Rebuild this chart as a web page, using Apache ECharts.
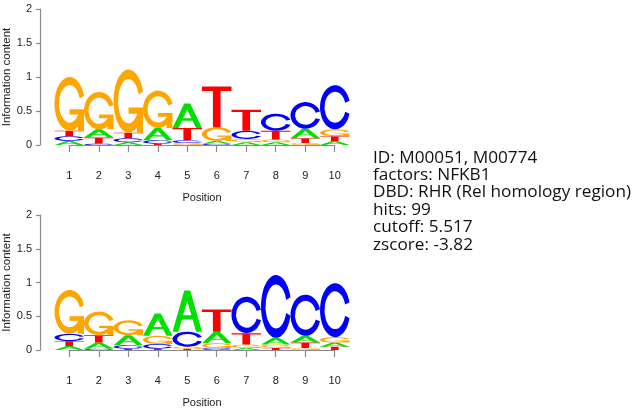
<!DOCTYPE html>
<html>
<head>
<meta charset="utf-8" />
<script src="https://cdn.jsdelivr.net/npm/echarts@6/dist/echarts.min.js"></script>
<style>
  html, body { margin: 0; padding: 0; background: #fff; }
  #main { width: 638px; height: 411px; }
</style>
</head>
<body>
<div id="main"></div>
<script>
// motif positions and y ticks
const positions = [1, 2, 3, 4, 5, 6, 7, 8, 9, 10];
const letters = ['A', 'C', 'G', 'T'];

// letter heights (bits)
const topA = [0.06, 0.12, 0.04, 0.18, 0.36, 0.04, 0.04, 0.04, 0.14, 0.06];
const topC = [0.07, 0.02, 0.06, 0.05, 0.04, 0.02, 0.12, 0.25, 0.39, 0.65];
const topG = [0.79, 0.55, 0.93, 0.55, 0.03, 0.20, 0.05, 0.04, 0.03, 0.10];
const topT = [0.08, 0.09, 0.08, 0.02, 0.18, 0.60, 0.31, 0.13, 0.07, 0.07];

// lower logo
const botA = [0.06, 0.09, 0.15, 0.33, 0.61, 0.17, 0.03, 0.10, 0.10, 0.06];
const botC = [0.11, 0.02, 0.05, 0.07, 0.22, 0.03, 0.54, 0.93, 0.61, 0.80];
const botG = [0.65, 0.35, 0.22, 0.12, 0.03, 0.07, 0.05, 0.05, 0.03, 0.08];
const botT = [0.07, 0.11, 0.02, 0.02, 0.02, 0.33, 0.17, 0.03, 0.08, 0.05];

const infoLines = [
  'ID: M00051, M00774',
  'factors: NFKB1',
  'DBD: RHR (Rel homology region)',
  'hits: 99',
  'cutoff: 5.517',
  'zscore: -3.82'
];

// glyph outlines in a 100x100 box (seqLogo style)
const glyphs = {
  A: 'M0 100 L40 0 L60 0 L100 100 L80 100 L68 70 L32 70 L20 100 Z M36 60 L64 60 L50 25 Z',
  C: 'M97.8 35.2 A50 50 0 1 0 97.8 64.8 L83.4 60.4 A35 35 0 1 1 83.4 39.6 Z',
  G: 'M97.8 35.2 A50 50 0 1 0 97.8 64.8 L83.4 60.4 A35 35 0 1 1 83.4 39.6 Z ' +
     'M97.8 60 L50 60 L50 70 L77.8 70 L77.8 100 L97.8 100 Z',
  T: 'M0 0 L100 0 L100 11 L63 11 L63 100 L37 100 L37 11 L0 11 Z'
};
const colors = { A: '#00e000', C: '#0000ff', G: '#ffa500', T: '#ff0000' };

// stack letters per column, smallest at the bottom
function buildStacks(a, c, g, t) {
  const out = [];
  const cols = [a, c, g, t];
  positions.forEach((p, i) => {
    const col = letters.map((l, k) => ({ k, h: cols[k][i] })).sort((u, v) => u.h - v.h);
    let base = 0;
    col.forEach(d => {
      out.push([p, base, d.h, d.k]);
      base += d.h;
    });
  });
  return out;
}

function renderLetter(params, api) {
  const x = api.value(0), base = api.value(1), h = api.value(2);
  const l = letters[api.value(3)];
  const tl = api.coord([x - 0.5, base + h]);
  const br = api.coord([x + 0.5, base]);
  return {
    type: 'path',
    shape: {
      pathData: glyphs[l],
      x: tl[0], y: tl[1],
      width: br[0] - tl[0], height: br[1] - tl[1],
      layout: 'cover'
    },
    style: { fill: colors[l] }
  };
}

const axisColor = '#8a8a8a';
const labelFont = '"Liberation Sans", Arial, sans-serif';

function posAxis(gridIndex) {
  return {
    gridIndex, type: 'value', min: 1, max: 10, interval: 1, offset: 7,
    axisLine: { show: true, lineStyle: { color: axisColor, width: 1.2 } },
    axisTick: { show: true, length: 7, lineStyle: { color: axisColor, width: 1.2 } },
    axisLabel: { margin: 18, fontSize: 11, color: '#222', fontFamily: labelFont },
    splitLine: { show: false },
    name: 'Position', nameLocation: 'middle', nameGap: 40,
    nameTextStyle: { fontSize: 11, color: '#222', fontFamily: labelFont }
  };
}

function icAxis(gridIndex) {
  return {
    gridIndex, type: 'value', min: 0, max: 2, interval: 0.5, offset: 14.5,
    axisLine: { show: true, lineStyle: { color: axisColor, width: 1.2 } },
    axisTick: { show: true, length: 4, lineStyle: { color: axisColor, width: 1.2 } },
    axisLabel: { margin: 8, fontSize: 11, color: '#222', fontFamily: labelFont },
    splitLine: { show: false },
    name: 'Information content', nameLocation: 'middle', nameGap: 20, nameRotate: 90,
    nameTextStyle: { fontSize: 11.5, color: '#222', fontFamily: labelFont }
  };
}

const hidden = (gridIndex, min, max) => ({ gridIndex, type: 'value', min, max, show: false, splitLine: { show: false } });

const chart = echarts.init(document.getElementById('main'));
const gridBase = { containLabel: false, outerBoundsMode: 'none' };
chart.setOption({
  animation: false,
  grid: [
    Object.assign({ left: 54.5, top: 9, width: 295, height: 136 }, gridBase),
    Object.assign({ left: 69.3, top: 9, width: 265.4, height: 136 }, gridBase),
    Object.assign({ left: 54.5, top: 215, width: 295, height: 135 }, gridBase),
    Object.assign({ left: 69.3, top: 215, width: 265.4, height: 135 }, gridBase)
  ],
  xAxis: [hidden(0, 0.5, 10.5), posAxis(1), hidden(2, 0.5, 10.5), posAxis(3)],
  yAxis: [icAxis(0), hidden(1, 0, 2), icAxis(2), hidden(3, 0, 2)],
  series: [
    { type: 'custom', xAxisIndex: 0, yAxisIndex: 0, renderItem: renderLetter,
      data: buildStacks(topA, topC, topG, topT), encode: { x: 0, y: 1 } },
    { type: 'custom', xAxisIndex: 2, yAxisIndex: 2, renderItem: renderLetter,
      data: buildStacks(botA, botC, botG, botT), encode: { x: 0, y: 1 } }
  ],
  graphic: [{
    type: 'text', left: 373, top: 149,
    style: {
      text: infoLines.join('\n'),
      fontSize: 17.2,
      fontFamily: 'Open Sans',
      lineHeight: 17.4,
      fill: '#111'
    }
  }]
});
</script>
</body>
</html>
